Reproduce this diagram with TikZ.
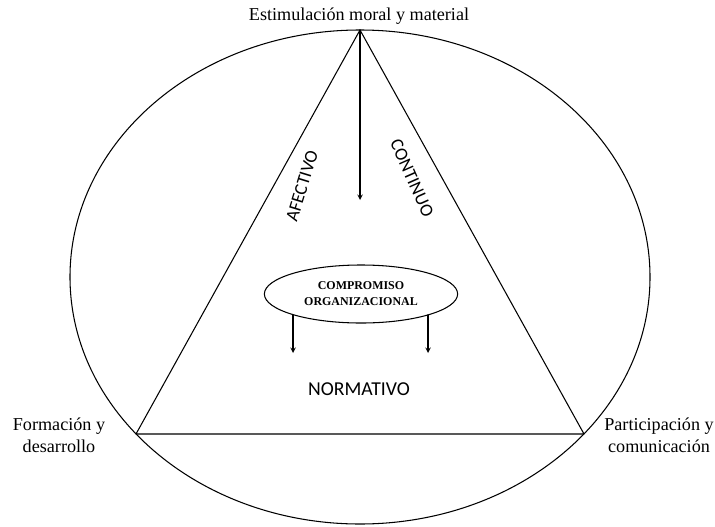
\documentclass[tikz,border=0pt]{standalone}
\usepackage{fontspec}
\setmainfont{Liberation Serif}
\newfontfamily\carlito{Carlito}
\usetikzlibrary{shapes.geometric}
\tikzset{
	serif/.style={font=\fontsize{12.9}{15.6}\selectfont,align=center},
	sans/.style={font=\carlito\fontsize{13}{15}\selectfont}
}
\begin{document}
\begin{tikzpicture}[x=0.025cm,y=-0.025cm,line join=round,line cap=round,>=stealth,line width=0.75pt]
				\useasboundingbox (0,0) rectangle (715,526);
				\draw (360,277) ellipse [x radius=290, y radius=247];
				\coordinate (A) at (360,30);
				\coordinate (B) at (136,434);
				\coordinate (C) at (584,434);
				\draw (A) -- (B) -- (C) -- cycle;
				\node[serif] (estimulo) at (359,16) {Estimulación moral y material};
				\node[serif] (formacion) at (59,435) {Formación y\\desarrollo};
				\node[serif] (participa) at (659,435) {Participación y\\comunicación};
				\node[sans,rotate=73] (afectivo) at (302,186) {AFECTIVO};
				\node[sans,rotate=-66] (continuo) at (412,178) {CONTINUO};
				\node[sans,font=\carlito\fontsize{14}{16}\selectfont] (normativo) at (359,389) {NORMATIVO};
				\node[ellipse,draw,minimum width=4.83cm,minimum height=1.45cm,align=center,
					font=\bfseries\fontsize{8.5}{11.4}\selectfont] (comp) at (361,294) {COMPROMISO\\ORGANIZACIONAL};
				\coordinate (mid) at (360,200);
				\coordinate (tl) at (293,353);
				\coordinate (tr) at (428,353);
				\draw[->] (A) -- (mid);
				\draw[->] (tl |- comp.197) -- (tl);
				\draw[->] (tr |- comp.343) -- (tr);
\end{tikzpicture}
\end{document}
